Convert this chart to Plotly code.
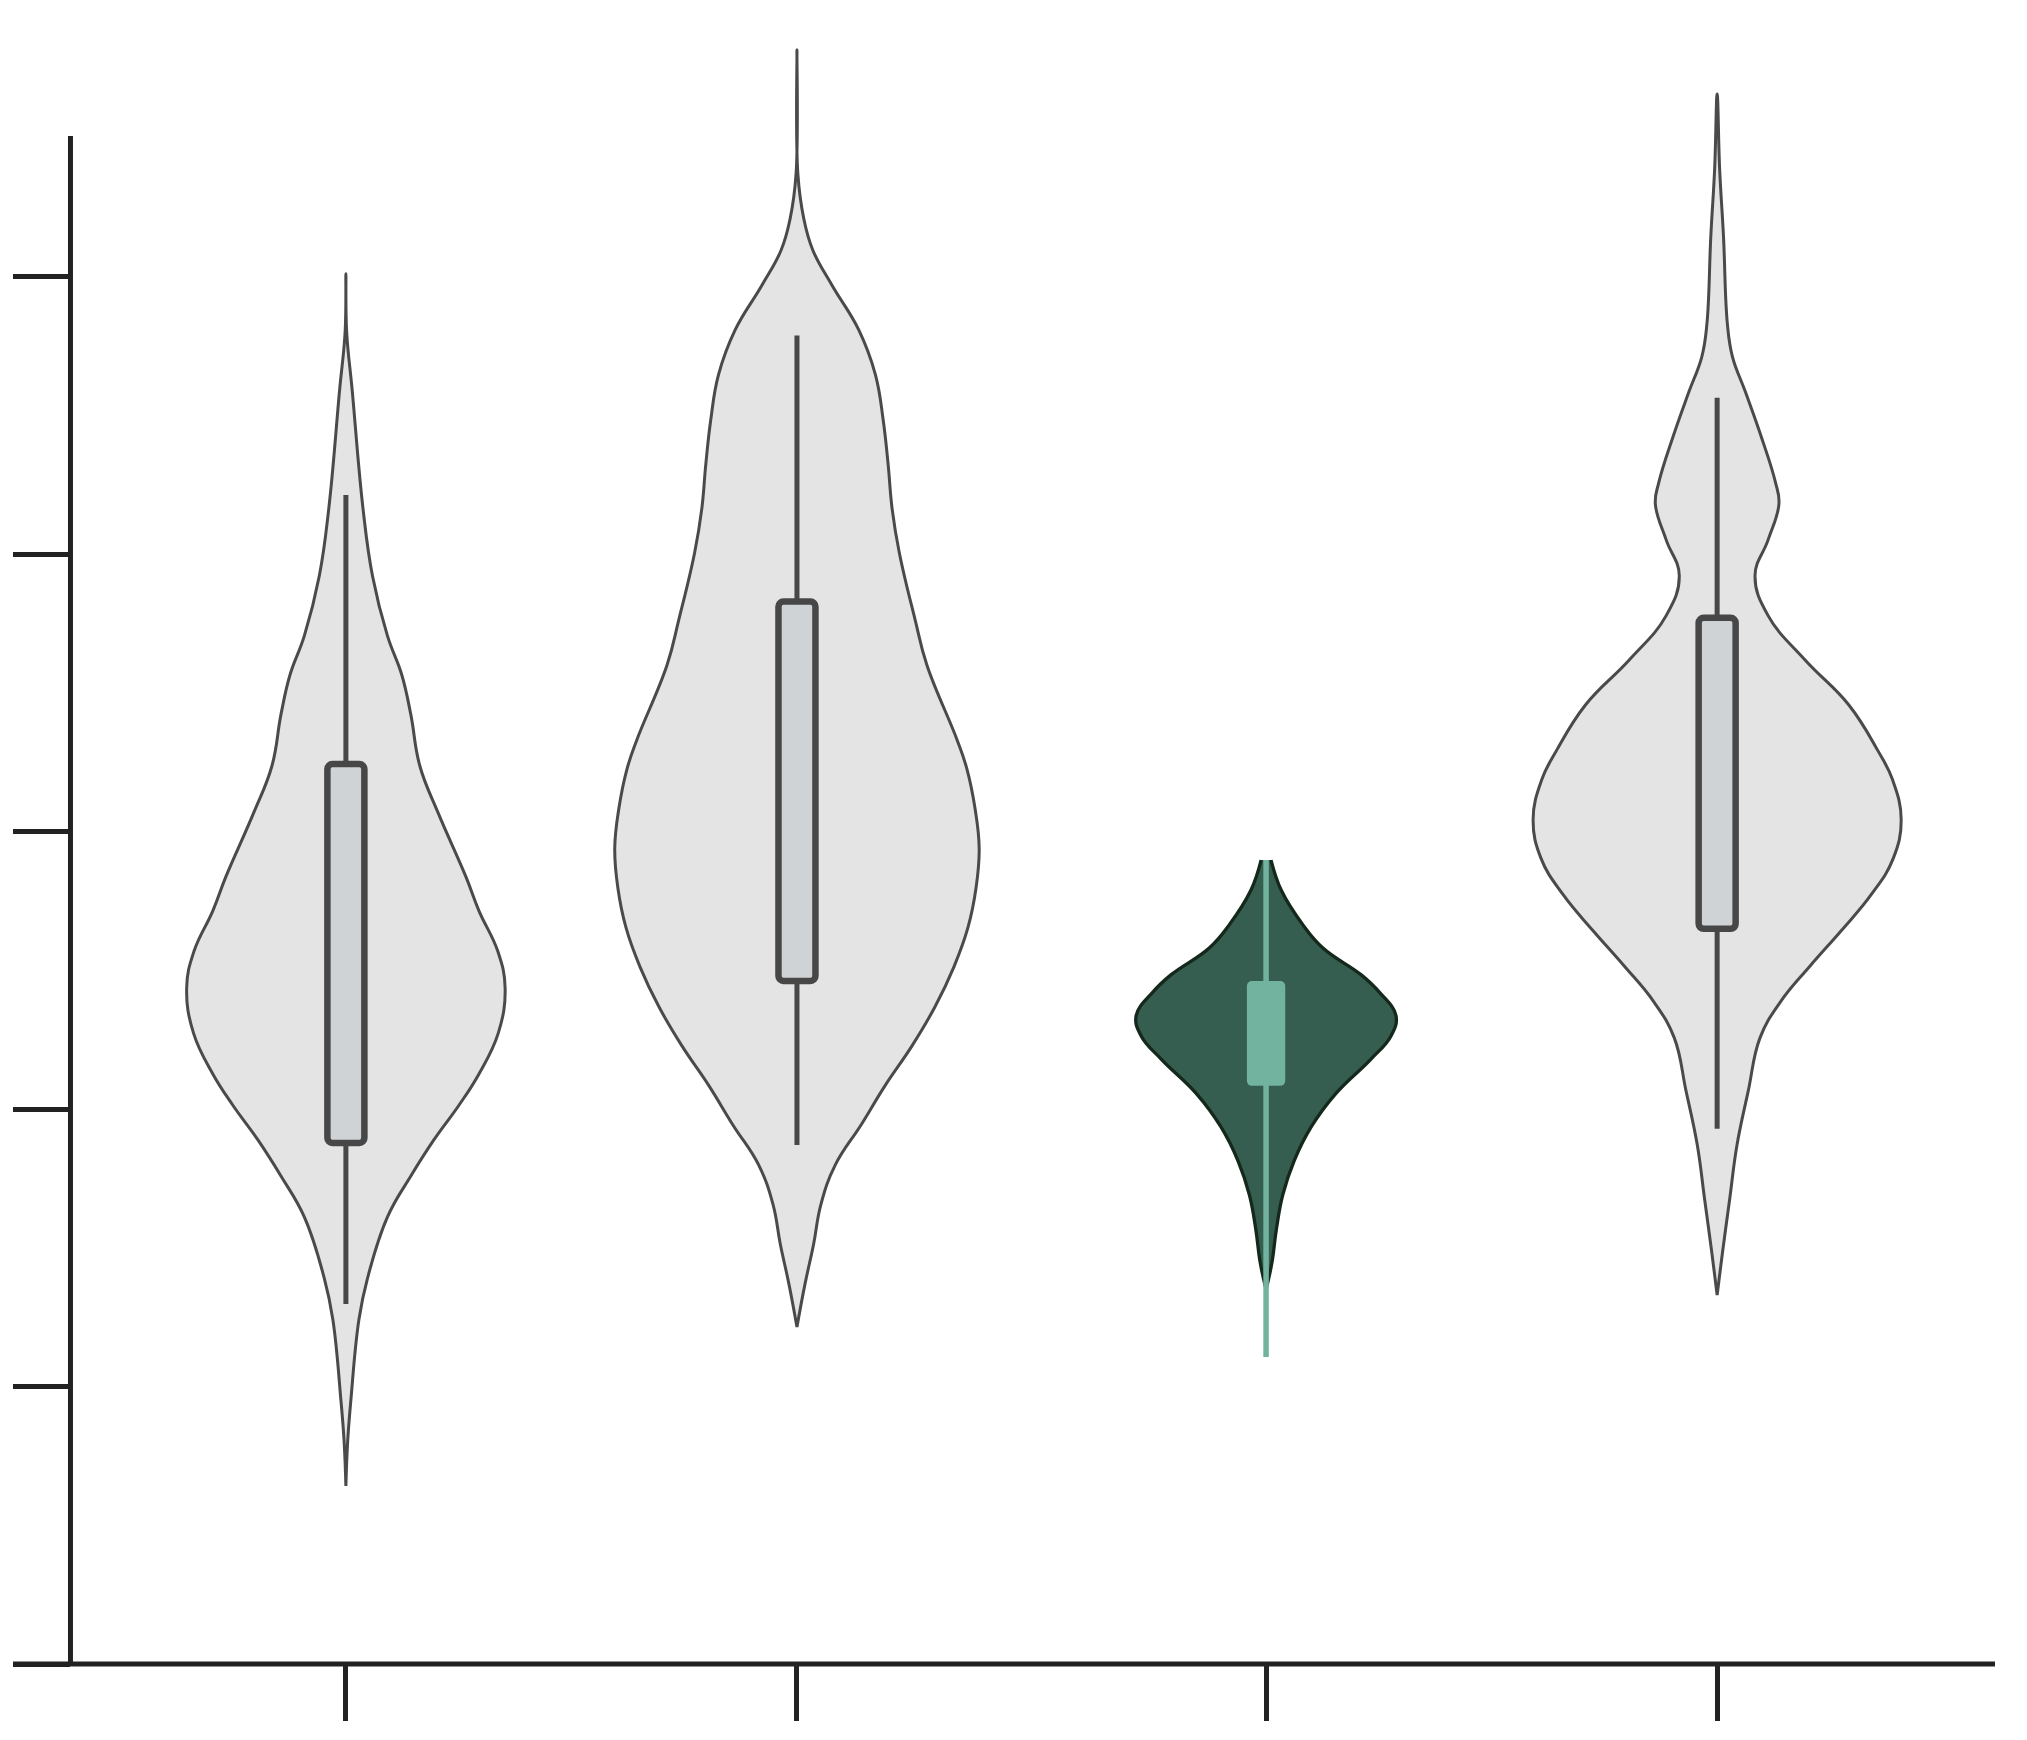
import plotly.graph_objects as go

# category positions on the x axis
positions = [0.0, 1.0, 2.04, 3.04]

# violin outlines: value levels (top -> bottom) and half-widths
v1_y = [5.011, 4.805, 4.591, 4.164, 3.922, 3.707, 3.565, 3.422, 3.237, 3.066, 2.838, 2.715,
        2.568, 2.437, 2.275, 2.127, 2.015, 1.889, 1.759, 1.611, 1.391, 1.243, 0.950, 0.804, 0.642]
v1_w = [0.0, 0.0016, 0.014, 0.038, 0.059, 0.092, 0.124, 0.144, 0.164, 0.205, 0.266, 0.295,
        0.337, 0.353, 0.338, 0.295, 0.251, 0.195, 0.144, 0.092, 0.048, 0.029, 0.011, 0.004, 0.0]

v2_y = [5.819, 5.371, 5.211, 5.097, 4.969, 4.809, 4.647, 4.486, 4.326, 4.164, 4.005, 3.764,
        3.601, 3.331, 3.225, 3.082, 2.939, 2.797, 2.654, 2.513, 2.369, 2.228, 2.084, 1.943,
        1.799, 1.656, 1.514, 1.371, 1.215]
v2_w = [0.0, 0.002, 0.015, 0.035, 0.078, 0.137, 0.174, 0.191, 0.202, 0.211, 0.227, 0.262,
        0.288, 0.355, 0.377, 0.395, 0.404, 0.397, 0.379, 0.348, 0.306, 0.255, 0.195, 0.142,
        0.085, 0.053, 0.037, 0.018, 0.0]

v3_y = [2.898, 2.788, 2.666, 2.581, 2.484, 2.422, 2.337, 2.264, 2.178, 2.057, 1.936, 1.813,
        1.691, 1.569, 1.447, 1.350]
v3_w = [0.011, 0.034, 0.081, 0.126, 0.211, 0.251, 0.288, 0.277, 0.231, 0.155, 0.100, 0.062,
        0.037, 0.023, 0.013, 0.0]

v4_y = [5.659, 5.390, 5.148, 4.825, 4.712, 4.584, 4.423, 4.261, 4.182, 4.052, 3.924, 3.779,
        3.619, 3.457, 3.296, 3.187, 3.043, 2.902, 2.772, 2.643, 2.516, 2.386, 2.257, 2.066,
        1.871, 1.678, 1.485, 1.330]
v4_w = [0.0, 0.0055, 0.014, 0.023, 0.034, 0.063, 0.098, 0.129, 0.137, 0.113, 0.084, 0.113,
        0.195, 0.292, 0.355, 0.389, 0.408, 0.390, 0.341, 0.275, 0.206, 0.140, 0.095, 0.069,
        0.044, 0.028, 0.012, 0.0]

# box statistics
q1 = [1.878, 2.462, 2.084, 2.650]
q3 = [3.244, 3.830, 2.462, 3.771]
whisker_lo = [1.298, 1.871, 1.107, 1.929]
whisker_hi = [4.214, 4.789, 2.898, 4.564]

y_ticks = [0, 1, 2, 3, 4, 5]
y_axis_top = 5.508
y_range = [0, 5.926]

violin_y = [v1_y, v2_y, v3_y, v4_y]
violin_w = [v1_w, v2_w, v3_w, v4_w]
highlight = 2

GREY_FILL = "#e4e4e4"
GREY_LINE = "#4a4a4a"
BOX_FILL = "#d0d3d6"
BOX_LINE = "#474747"
GREEN_FILL = "#365e50"
GREEN_LINE = "#14281b"
GREEN_LIGHT = "#72b39f"
AXIS = "#222222"

fig = go.Figure()

for i, (c, ys, ws) in enumerate(zip(positions, violin_y, violin_w)):
    xs = [c + w for w in ws] + [c - w for w in reversed(ws)]
    yy = list(ys) + list(reversed(ys))
    hl = i == highlight
    fig.add_trace(go.Scatter(
        x=xs, y=yy, mode="lines", fill="toself",
        fillcolor=GREEN_FILL if hl else GREY_FILL,
        line=dict(color=GREEN_LINE if hl else GREY_LINE, width=3.3 if hl else 3,
                  shape="spline", smoothing=1.2),
        hoverinfo="skip", showlegend=False))

# boxes and whiskers live on an overlaid axis so they sit above the violins
for i, c in enumerate(positions):
    hl = i == highlight
    wcol = GREEN_LIGHT if hl else BOX_LINE
    fig.add_trace(go.Bar(
        x=[c], y=[q3[i] - q1[i]], base=[q1[i]], yaxis="y2",
        width=0.085 if hl else 0.082,
        marker=dict(color=GREEN_LIGHT if hl else BOX_FILL,
                    line=dict(color=GREEN_LIGHT if hl else BOX_LINE, width=0 if hl else 6.5),
                    cornerradius=5),
        showlegend=False, hoverinfo="skip"))
    if hl:
        fig.add_trace(go.Scatter(x=[c, c], y=[whisker_lo[i], whisker_hi[i]], mode="lines",
                                 yaxis="y2", line=dict(color=wcol, width=5.5),
                                 showlegend=False, hoverinfo="skip"))
    else:
        fig.add_trace(go.Scatter(x=[c, c], y=[q3[i], whisker_hi[i]], mode="lines",
                                 yaxis="y2", line=dict(color=wcol, width=5),
                                 showlegend=False, hoverinfo="skip"))
        fig.add_trace(go.Scatter(x=[c, c], y=[whisker_lo[i], q1[i]], mode="lines",
                                 yaxis="y2", line=dict(color=wcol, width=5),
                                 showlegend=False, hoverinfo="skip"))

# axis lines
fig.add_shape(type="line", xref="paper", yref="y", x0=0.029, x1=0.029,
              y0=0, y1=y_axis_top, line=dict(color=AXIS, width=5))
fig.add_shape(type="line", xref="paper", yref="paper", x0=0, x1=1,
              y0=0, y1=0, line=dict(color=AXIS, width=5))

fig.update_layout(
    width=2027, height=1740,
    margin=dict(l=5, r=40, t=12, b=84),
    paper_bgcolor="white", plot_bgcolor="white",
    showlegend=False, barmode="overlay",
    xaxis=dict(range=[-0.738, 3.656], tickvals=positions, ticks="outside", ticklen=56,
               tickwidth=5, tickcolor=AXIS, showticklabels=False, showline=False,
               showgrid=False, zeroline=False),
    yaxis=dict(range=y_range, tickvals=y_ticks, ticks="outside", ticklen=57,
               tickwidth=5, tickcolor=AXIS, showticklabels=False, showline=False,
               showgrid=False, zeroline=False, anchor="free", position=0.029),
    yaxis2=dict(range=y_range, overlaying="y", visible=False, showgrid=False,
                zeroline=False),
)

fig.write_html("out.html")
